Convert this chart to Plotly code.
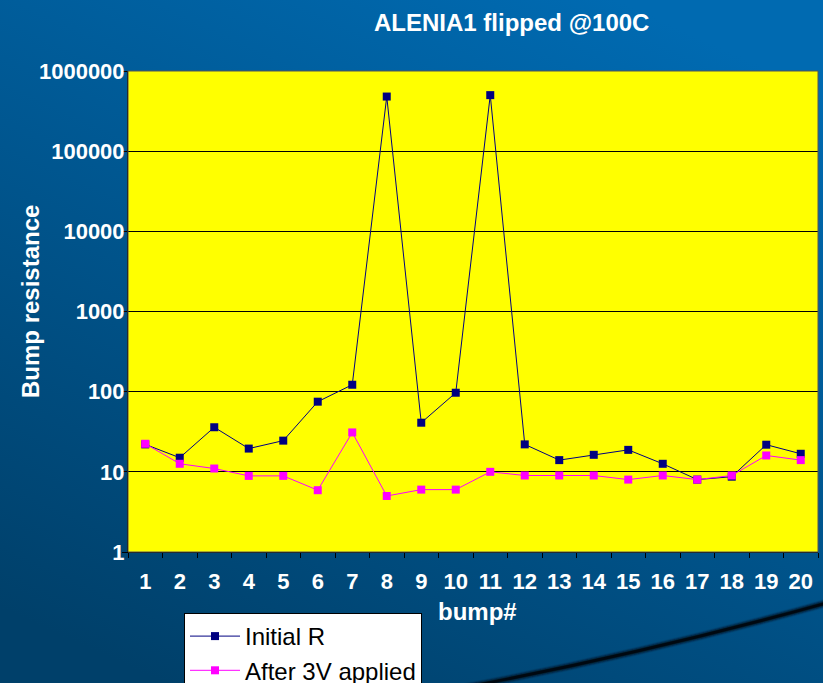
import base64
import plotly.graph_objects as go

# ---- data ----
bumps = [str(i) for i in range(1, 21)]
initial_r = [22, 15, 36, 19.5, 24.5, 75, 122, 480000, 41, 97,
             500000, 22, 14, 16.3, 18.8, 12.6, 8, 8.7, 21.8, 16.8]
after_3v = [22.4, 12.6, 11, 8.9, 8.9, 5.9, 31, 5, 6, 6,
            10, 9, 9, 9, 8, 9, 8, 9, 16, 14]
y_tickvals = [1, 10, 100, 1000, 10000, 100000, 1000000]
y_ticktext = ["1", "10", "100", "1000", "10000", "100000", "1000000"]

title_text = "ALENIA1 flipped @100C"
x_title = "bump#"
y_title = "Bump resistance"

# ---- layout geometry ----
W, H = 823, 683
ML, MR, MT, MB = 128, 5, 71, 131
PW, PH = W - ML - MR, H - MT - MB
FONT = "Liberation Sans, Arial, sans-serif"


def px_x(x):
    return (x - ML) / PW


def px_y(y):
    return (H - MB - y) / PH


svg = f'''<svg xmlns="http://www.w3.org/2000/svg" width="{W}" height="{H}" viewBox="0 0 {W} {H}">
<defs>
<linearGradient id="g" x1="0.75" y1="0" x2="0.2" y2="1">
<stop offset="0" stop-color="#006AB1"/>
<stop offset="1" stop-color="#00406A"/>
</linearGradient>
<filter id="b" x="-10%" y="-50%" width="120%" height="200%"><feGaussianBlur stdDeviation="1.2"/></filter>
</defs>
<rect width="{W}" height="{H}" fill="url(#g)"/>
<path d="M 440 692 Q 640 655 830 602" stroke="#00101C" stroke-width="5" fill="none" filter="url(#b)"/>
<path d="M 440 692 Q 640 655 830 602" stroke="#000810" stroke-width="2.5" fill="none"/>
</svg>'''
bg_src = "data:image/svg+xml;base64," + base64.b64encode(svg.encode()).decode()

fig = go.Figure()
fig.add_trace(go.Scatter(
    x=bumps, y=initial_r, name="Initial R", mode="lines+markers",
    line=dict(color="#000080", width=1),
    marker=dict(symbol="square", size=8, color="#000080"),
    legendgroup="a",
))
fig.add_trace(go.Scatter(
    x=bumps, y=after_3v, name="After 3V applied", mode="lines+markers",
    line=dict(color="#FF00FF", width=1),
    marker=dict(symbol="square", size=8, color="#FF00FF"),
    legendgroup="b",
))

fig.update_layout(
    width=W, height=H,
    margin=dict(l=ML, r=MR, t=MT, b=MB, pad=0, autoexpand=False),
    paper_bgcolor="#005588",
    plot_bgcolor="#FFFF00",
    font=dict(family=FONT, color="white"),
    showlegend=True,
    legend=dict(
        x=px_x(184), y=px_y(613), xanchor="left", yanchor="top",
        bgcolor="white", bordercolor="black", borderwidth=1,
        font=dict(family=FONT, size=24, color="black"),
        traceorder="grouped", tracegroupgap=0, itemwidth=50,
    ),
    xaxis=dict(
        type="category", showgrid=False, showline=True, linecolor="black",
        linewidth=1, ticks="outside", tickson="boundaries", ticklen=5,
        tickcolor="black",
        tickfont=dict(family=FONT, size=22, color="white", weight="bold"),
        ticklabelstandoff=10,
        range=[-0.5, 19.5], zeroline=False,
    ),
    yaxis=dict(
        type="log", range=[0, 6], showgrid=True, gridcolor="black",
        gridwidth=1, showline=True, linecolor="black", linewidth=1,
        ticks="outside", ticklen=5, tickcolor="black",
        tickvals=y_tickvals, ticktext=y_ticktext,
        tickfont=dict(family=FONT, size=22, color="white", weight="bold"),
        ticklabelstandoff=-7, zeroline=False,
    ),
    images=[dict(
        source=bg_src, xref="paper", yref="paper",
        x=-ML / PW, y=1 + MT / PH, sizex=W / PW, sizey=H / PH,
        xanchor="left", yanchor="top", sizing="stretch", layer="below",
    )],
    shapes=[
        dict(type="rect", xref="paper", yref="paper", x0=0, x1=1, y0=0, y1=1,
             fillcolor="#FFFF00", line=dict(width=0), layer="below"),
        dict(type="rect", xref="paper", yref="paper", x0=0, x1=1, y0=0, y1=1,
             line=dict(color="#555555", width=1), layer="above"),
    ],
    annotations=[
        dict(text=title_text, x=px_x(511), y=px_y(22), xref="paper", yref="paper",
             showarrow=False, xanchor="center", yanchor="middle",
             font=dict(family=FONT, size=24, color="white", weight="bold")),
        dict(text=y_title, x=px_x(30), y=px_y(302), xref="paper", yref="paper",
             showarrow=False, xanchor="center", yanchor="middle", textangle=-90,
             font=dict(family=FONT, size=24, color="white", weight="bold")),
        dict(text=x_title, x=px_x(477), y=px_y(611), xref="paper", yref="paper",
             showarrow=False, xanchor="center", yanchor="middle",
             font=dict(family=FONT, size=24, color="white", weight="bold")),
    ],
)

fig.write_html(
    "out.html",
    config={"displayModeBar": False},
    post_script="document.body.style.margin='0';document.body.style.overflow='hidden';",
)
